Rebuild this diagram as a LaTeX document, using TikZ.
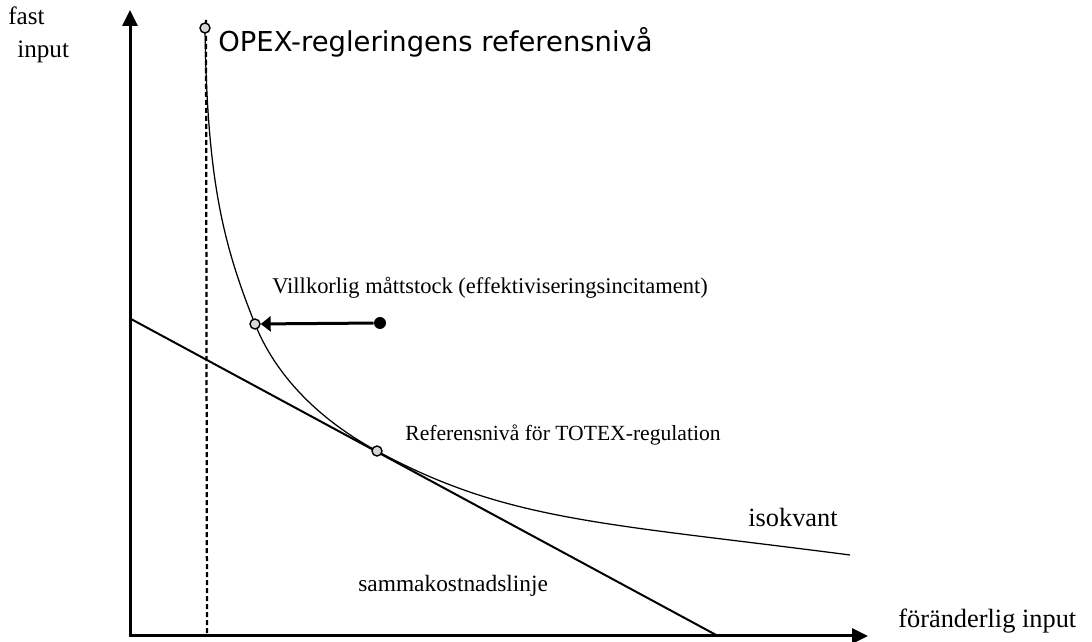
\documentclass[tikz,border=0pt]{standalone}
\usepackage{fontspec}
\setmainfont{Liberation Serif}
\newfontfamily\dejavu{DejaVu Sans}
\usetikzlibrary{arrows.meta, positioning}
\definecolor{punktGray}{RGB}{215, 215, 215}

\begin{document}
\begin{tikzpicture}[x=0.2mm, y=-0.2mm,
    etikett/.style={font=\fontsize{15}{18}\selectfont, inner sep=0pt, anchor=base west},
    liten/.style={font=\fontsize{12.8}{15}\selectfont},
    punkt/.style={circle, draw, fill=punktGray, line width=0.8pt, inner sep=0pt, minimum size=2mm},
    fylld/.style={circle, fill=black, inner sep=0pt, minimum size=2.4mm},
    axel/.style={line width=0.6mm, {Triangle[length=3.2mm, width=3mm]}-{Triangle[length=3.2mm, width=3mm]}}
  ]
  \useasboundingbox (0,0) rectangle (1092,642);

  % Axes
  \coordinate (origo) at (130,636);
  \coordinate (ytopp) at (130,10);
  \coordinate (xslut) at (868,636);
  \draw[axel] (ytopp) -- (origo) -- (xslut);
  \node[etikett, font=\fontsize{14.3}{17}\selectfont] (fast) at (8,25) {fast};
  \node[etikett, font=\fontsize{14.3}{17}\selectfont] (input) at (17,58) {input};
  \node[etikett] (xlab) at (898,628) {föränderlig input};

  % OPEX reference level (dashed)
  \coordinate (streck-a) at (206,20);
  \coordinate (streck-b) at (207,636);
  \draw[line width=0.45mm, dash pattern=on 1mm off 0.6mm] (streck-a) -- (streck-b);

  % Isokvant
  \coordinate (p-opex) at (205,28);
  \coordinate (p-vill) at (255,324);
  \coordinate (p-totex) at (377,451);
  \coordinate (p-slut) at (850,555);
  \draw[line width=0.25mm] (p-opex) .. controls (207,180) and (223,244) .. (p-vill)
    .. controls (275,374) and (317,418.6) .. (p-totex)
    .. controls (507,521.2) and (600,522.5) .. (p-slut);

  % Sammakostnadslinje
  \coordinate (kost-a) at (131,319);
  \coordinate (kost-b) at (718,636);
  \draw[line width=0.4mm] (kost-a) -- (kost-b);

  % Points
  \node[punkt] (opex) at (p-opex) {};
  \node[punkt] (vill) at (p-vill) {};
  \node[punkt] (totex) at (p-totex) {};
  \node[fylld] (start) at (380,323) {};
  \draw[line width=0.6mm, -{Triangle[length=2mm, width=3mm]}] (start) -- (vill);

  % Labels
  \node[etikett, font=\dejavu\fontsize{15.6}{18}\selectfont] (opexlab) at (218,52) {OPEX-regleringens referensnivå};
  \node[etikett, liten] (villlab) at (272,294) {Villkorlig måttstock (effektiviseringsincitament)};
  \node[etikett, font=\fontsize{12.3}{15}\selectfont] (totexlab) at (405,441) {Referensnivå för TOTEX-regulation};
  \node[etikett] (isolab) at (748,527) {isokvant};
  \node[etikett, font=\fontsize{13.3}{16}\selectfont] (kostlab) at (358,592) {sammakostnadslinje};
\end{tikzpicture}
\end{document}
